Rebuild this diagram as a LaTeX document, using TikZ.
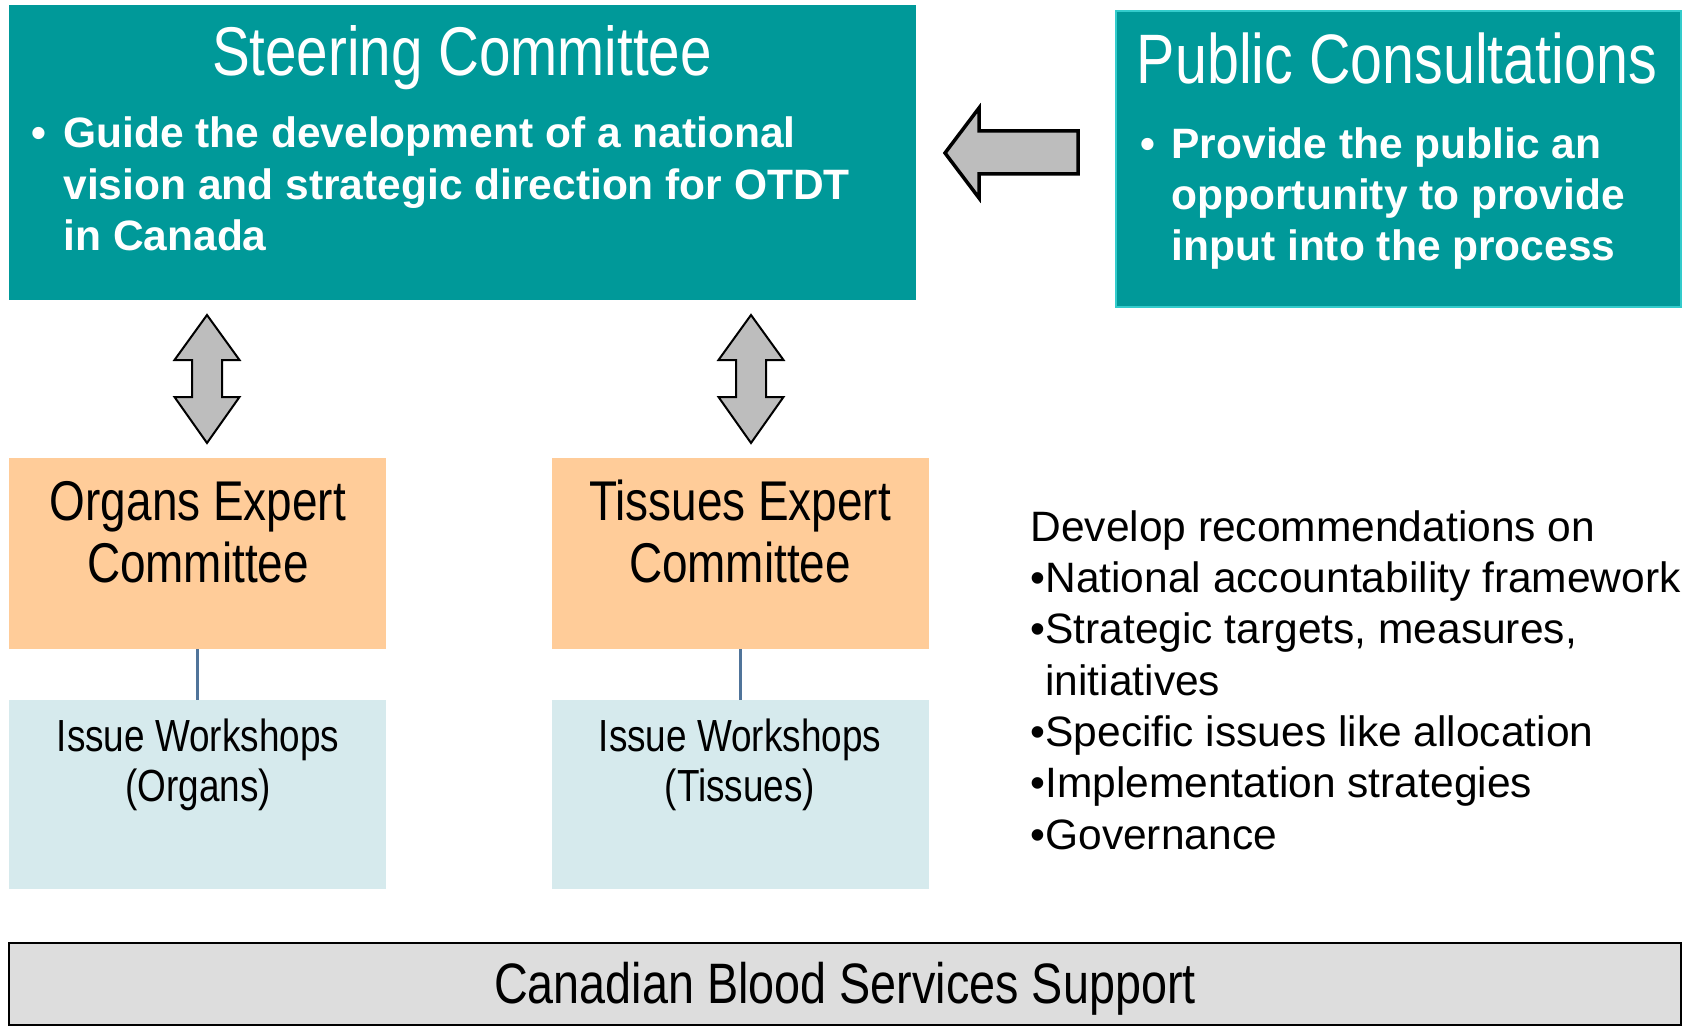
\documentclass[tikz,border=0pt]{standalone}
\usepackage{fontspec}
\setmainfont{Liberation Sans}
\newfontfamily\narrowfont[FakeStretch=0.82]{Liberation Sans}
\usepackage{xcolor}
\usetikzlibrary{positioning,calc}
\definecolor{teal_box}{HTML}{009999}
\definecolor{teal_edge}{HTML}{33CCCC}
\definecolor{peach}{HTML}{FFCC99}
\definecolor{pale_blue}{HTML}{D6EAED}
\definecolor{arrow_grey}{HTML}{BDBDBD}
\definecolor{link_blue}{HTML}{50749A}
\definecolor{support_grey}{HTML}{DDDDDD}

\tikzset{
  box/.style={anchor=north west, inner sep=0pt, outer sep=0pt},
  title/.style={anchor=base, text=white, font=\narrowfont\fontsize{69}{69}\selectfont},
  subtitle/.style={anchor=base, align=center, font=\narrowfont\fontsize{56}{62}\selectfont},
  bullets/.style={anchor=base west, align=left, text=white, font=\bfseries\fontsize{42.5}{51}\selectfont},
  link/.style={link_blue, line width=3.5pt},
  blockarrow/.style={draw=black, fill=arrow_grey, line width=2pt, line join=miter}
}

\begin{document}
\begin{tikzpicture}[x=1pt,y=-1pt]
        \useasboundingbox (0,0) rectangle (1697,1027);
        % Steering Committee
        \node[box, fill=teal_box, minimum width=907pt, minimum height=295pt] (steer) at (9,5) {};
        \node[title] (steertitle) at (462,76) {Steering Committee};
        \node[bullets] (steertext) at (28,250) {\makebox[32pt][l]{•}Guide the development of a national\\\hspace*{32pt}vision and strategic direction for OTDT\\\hspace*{32pt}in Canada};
        % Public Consultations
        \node[box, fill=teal_box, draw=teal_edge, line width=2pt, minimum width=565pt, minimum height=296pt] (pub) at (1116,11) {};
        \node[title, font=\narrowfont\fontsize{70}{70}\selectfont] (pubtitle) at (1397,84) {Public Consultations};
        \node[bullets] (pubtext) at (1137,260) {\makebox[31pt][l]{•}Provide the public an\\\hspace*{31pt}opportunity to provide\\\hspace*{31pt}input into the process};
        % Arrow from the public to the steering committee
        \coordinate (tip) at (945,153);
        \draw[blockarrow, line width=3.5pt] (tip) -- ++(34,-45) -- ++(0,23) -- ++(99,0) -- ++(0,43)
              -- ++(-99,0) -- ++(0,24) -- cycle;
        % Expert committees
        \node[box, fill=peach, minimum width=377pt, minimum height=191pt] (organs) at (9,458) {};
        \node[subtitle] (organstitle) at (198,582) {Organs Expert\\Committee};
        \node[box, fill=peach, minimum width=377pt, minimum height=191pt] (tissues) at (552,458) {};
        \node[subtitle] (tissuestitle) at (740,582) {Tissues Expert\\Committee};
        % Double arrows
        \foreach \x in {207,751}
          \draw[blockarrow] (\x,315) -- ++(32.5,45) -- ++(-17.5,0) -- ++(0,37) -- ++(17.5,0)
              -- ++(-32.5,46) -- ++(-32.5,-46) -- ++(17.5,0) -- ++(0,-37) -- ++(-17.5,0) -- cycle;
        % Issue workshops
        \node[box, fill=pale_blue, minimum width=377pt, minimum height=189pt] (wsorgans) at (9,700) {};
        \node[anchor=base, align=center, font=\narrowfont\fontsize{45}{50}\selectfont] (wsorganstext) at (198,801) {Issue Workshops\\(Organs)};
        \node[box, fill=pale_blue, minimum width=377pt, minimum height=189pt] (wstissues) at (552,700) {};
        \node[anchor=base, align=center, font=\narrowfont\fontsize{45}{50}\selectfont] (wstissuestext) at (740,801) {Issue Workshops\\(Tissues)};
        \draw[link] (organs.south) -- (wsorgans.north);
        \draw[link] (tissues.south) -- (wstissues.north);
        % Recommendations
        \node[anchor=base west, align=left, font=\fontsize{42.5}{51.3}\selectfont] (recs) at (1027,849)
          {Develop recommendations on\\•National accountability framework\\•Strategic targets, measures,\\\phantom{•}initiatives\\•Specific issues like allocation\\•Implementation strategies\\•Governance};
        % Support
        \node[box, fill=support_grey, draw=black, line width=2pt, minimum width=1672pt, minimum height=82pt] (support) at (9,943) {};
        \node[anchor=base, font=\narrowfont\fontsize{57}{57}\selectfont] (supporttext) at (845,1003) {Canadian Blood Services Support};
\end{tikzpicture}
\end{document}
